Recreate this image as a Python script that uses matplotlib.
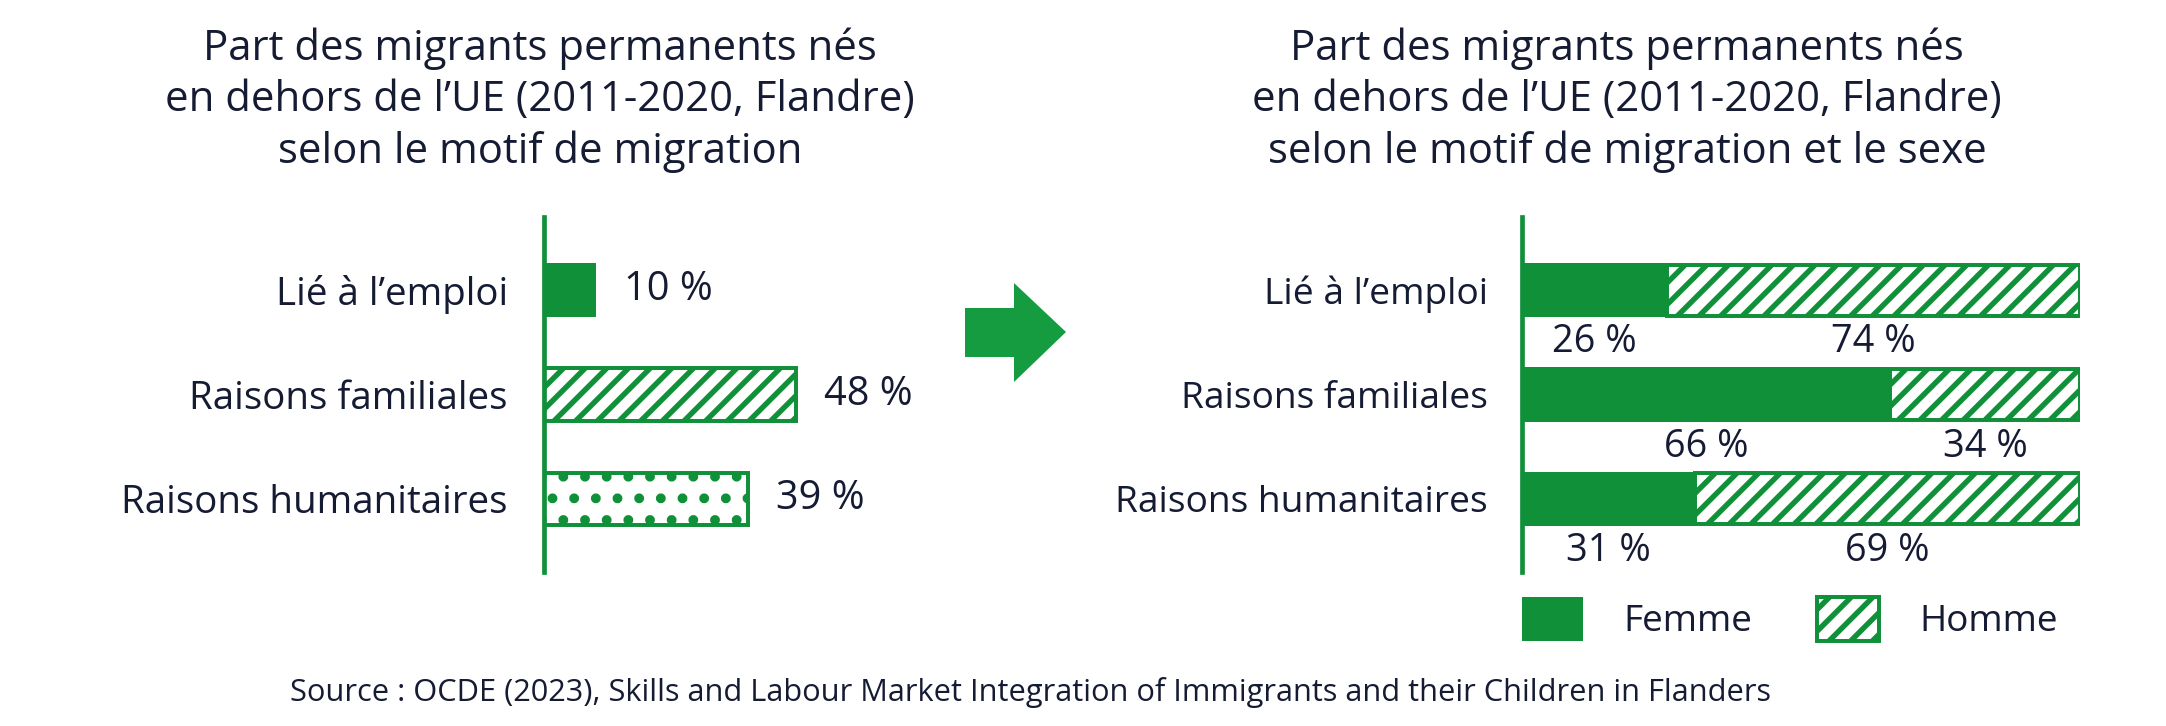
import matplotlib
matplotlib.use("Agg")
import matplotlib.pyplot as plt
from matplotlib.patches import Polygon

plt.rcParams['font.family'] = ['Open Sans', 'DejaVu Sans']
plt.rcParams['hatch.linewidth'] = 3.0

# data
categories = ["Lié à l’emploi", "Raisons familiales", "Raisons humanitaires"]
share = [10, 48, 39]
femme = [26, 66, 31]
homme = [74, 34, 69]
left_hatch = [None, '//', '.']
sexes = ["Femme", "Homme"]

title_left = "Part des migrants permanents nés\nen dehors de l’UE (2011-2020, Flandre)\nselon le motif de migration"
title_right = "Part des migrants permanents nés\nen dehors de l’UE (2011-2020, Flandre)\nselon le motif de migration et le sexe"
source = "Source : OCDE (2023), Skills and Labour Market Integration of Immigrants and their Children in Flanders"

GREEN = '#11903a'
ARROW = '#169c40'
TXT = '#151b33'

W, H, DPI = 2166, 726, 130
fig = plt.figure(figsize=(W / DPI, H / DPI), dpi=DPI)


def px_axes(x0, y0, x1, y1):
    return fig.add_axes([x0 / W, 1 - y1 / H, (x1 - x0) / W, (y1 - y0) / H])


ax1 = px_axes(544, 217, 1068, 572)
ax2 = px_axes(1522, 217, 2080, 572)
ypos = list(range(len(categories)))

for ax, fs, pad in ((ax1, 21.3, 20), (ax2, 20.6, 19)):
    ax.set_xlim(0, 100)
    ax.set_ylim(2.70, -0.70)
    for s in ('top', 'right', 'bottom'):
        ax.spines[s].set_visible(False)
    ax.spines['left'].set_color(GREEN)
    ax.spines['left'].set_linewidth(2.6)
    ax.set_xticks([])
    ax.set_yticks(ypos)
    ax.set_yticklabels(categories, fontsize=fs, color=TXT)
    ax.tick_params(axis='y', length=0, pad=pad)
    ax.patch.set_alpha(0)

# left panel
for i, (v, h) in enumerate(zip(share, left_hatch)):
    if h:
        ax1.barh(ypos[i], v, height=0.5, color='white', edgecolor=GREEN, hatch=h, linewidth=2.2)
    else:
        ax1.barh(ypos[i], v, height=0.52, color=GREEN, edgecolor=GREEN, linewidth=0)
    ax1.annotate(f"{v} %", (v, ypos[i]), xytext=(15.5, 0), textcoords='offset points',
                 ha='left', va='center', fontsize=22, color=TXT)

# right panel
b1 = ax2.barh(ypos, femme, height=0.52, color=GREEN, edgecolor=GREEN, linewidth=0, label=sexes[0])
b2 = ax2.barh(ypos, homme, left=femme, height=0.49, color='white', edgecolor=GREEN,
              hatch='//', linewidth=2.2, label=sexes[1])
for i in ypos:
    ax2.annotate(f"{femme[i]} %", (femme[i] / 2, ypos[i]), xytext=(0, -29), textcoords='offset points',
                 ha='center', va='center', fontsize=21, color=TXT)
    ax2.annotate(f"{homme[i]} %", (femme[i] + homme[i] / 2, ypos[i]), xytext=(0, -29),
                 textcoords='offset points', ha='center', va='center', fontsize=21, color=TXT)

ax2.legend(handles=[b1, b2], loc='upper left', bbox_to_anchor=(1522 / W, 1 - 597 / H),
           bbox_transform=fig.transFigure, ncol=2, frameon=False, fontsize=20.5,
           handlelength=1.65, handleheight=1.45, handletextpad=1.1, columnspacing=1.75,
           borderpad=0, borderaxespad=0, labelcolor=TXT)

# arrow between the panels
pts = [(965, 308), (1014, 308), (1014, 283), (1066, 332), (1014, 382), (1014, 357), (965, 357)]
fig.add_artist(Polygon([(x / W, 1 - y / H) for x, y in pts], closed=True,
                       transform=fig.transFigure, color=ARROW, lw=0))

fig.text(540 / W, 1 - 28 / H, title_left, ha='center', va='top', fontsize=23.2, color=TXT, linespacing=1.28)
fig.text(1627 / W, 1 - 28 / H, title_right, ha='center', va='top', fontsize=23.2, color=TXT, linespacing=1.28)
fig.text(1030 / W, 1 - 693 / H, source, ha='center', va='center', fontsize=17, color=TXT)

fig.savefig('out.png', dpi=DPI)
